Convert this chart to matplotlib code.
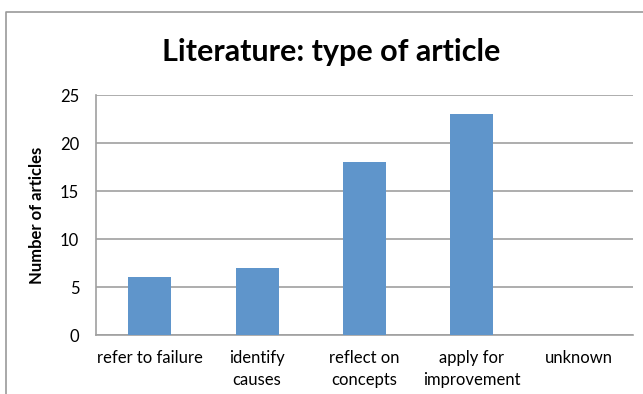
import matplotlib
matplotlib.use("Agg")
import matplotlib.pyplot as plt
from matplotlib.lines import Line2D

categories = ["refer to failure", "identify\ncauses", "reflect on\nconcepts", "apply for\nimprovement", "unknown"]
counts = [6, 7, 18, 23, 0]
yticks = [0, 5, 10, 15, 20, 25]

plt.rcParams['font.family'] = ['Lato', 'DejaVu Sans']

W, H = 643, 394
fig = plt.figure(figsize=(W / 100, H / 100), dpi=100)
fig.patch.set_facecolor("white")

# axes box in pixel coordinates
left, right, top, bottom = 96, 633, 95, 335
ax = fig.add_axes([left / W, 1 - bottom / H, (right - left) / W, (bottom - top) / H])

x = range(len(categories))
ax.bar(x, counts, width=0.4, color="#5f95cb", zorder=3)
ax.set_xlim(-0.5, len(categories) - 0.5)
ax.set_ylim(0, 25)
ax.set_yticks(yticks)
ax.set_yticklabels([str(v) for v in yticks], fontsize=12)
ax.set_xticks(list(x))
ax.set_xticklabels(categories, fontsize=12, linespacing=1.45, va="top")
ax.tick_params(axis="both", length=0, colors="black")
ax.tick_params(axis="y", pad=12)
ax.tick_params(axis="x", pad=11)

ax.grid(axis="y", color="#a0a0a0", linewidth=1.2, zorder=0)
for side in ("top", "right"):
    ax.spines[side].set_visible(False)
for side in ("left", "bottom"):
    ax.spines[side].set_color("#a0a0a0")
    ax.spines[side].set_linewidth(1.2)

ax.set_ylabel("Number of articles", fontsize=12, fontweight="bold")
ax.yaxis.set_label_coords((45 - left) / (right - left), 0.5)

fig.text(331 / W, 1 - 52 / H, "Literature: type of article", fontsize=22,
         fontweight="bold", ha="center", va="center")

# chart area border (left and top edges)
fig.add_artist(Line2D([6 / W, 6 / W, 1.0], [0.0, 1 - 12 / H, 1 - 12 / H],
                      transform=fig.transFigure, color="#9a9a9a", linewidth=1.2))

fig.savefig("out.png", dpi=100)
